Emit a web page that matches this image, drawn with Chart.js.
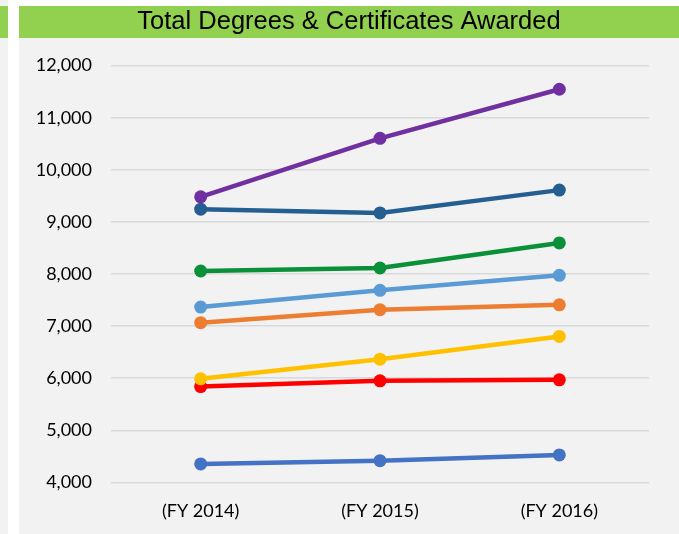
<!DOCTYPE html>
<html>
<head>
<meta charset="utf-8">
<script src="https://cdn.jsdelivr.net/npm/chart.js@4/dist/chart.umd.min.js"></script>
<style>
  html, body { margin: 0; padding: 0; background: #ffffff; overflow: hidden; }
  body { width: 679px; height: 534px; position: relative; }
  #leftStrip { position: absolute; left: 0; top: 0; width: 8px; height: 534px; background: #f2f2f2; }
  #leftStripGreen { position: absolute; left: 0; top: 6px; width: 8px; height: 32px; background: #92d050; }
  #wrap { position: absolute; left: 19px; top: 0; width: 660px; height: 534px; }
  canvas { display: block; }
</style>
</head>
<body>
<div id="leftStrip"></div>
<div id="leftStripGreen"></div>
<div id="wrap"><canvas id="c" width="660" height="534"></canvas></div>
<script>
const title = "Total Degrees & Certificates Awarded";
const categories = ["(FY 2014)", "(FY 2015)", "(FY 2016)"];
const yTicks = [4000, 5000, 6000, 7000, 8000, 9000, 10000, 11000, 12000];

const seriesPurple    = [9481, 10604, 11546];
const seriesDarkBlue  = [9244, 9173, 9610];
const seriesGreen     = [8058, 8115, 8596];
const seriesLightBlue = [7365, 7687, 7975];
const seriesOrange    = [7065, 7315, 7408];
const seriesYellow    = [5988, 6365, 6802];
const seriesRed       = [5840, 5950, 5969];
const seriesBlue      = [4354, 4417, 4527];

function ds(data, color) {
  return {
    data: data,
    borderColor: color,
    backgroundColor: color,
    pointBackgroundColor: color,
    pointBorderColor: color,
    borderWidth: 4.5,
    pointRadius: 6.5,
    pointHoverRadius: 6.5,
    pointBorderWidth: 0,
    tension: 0,
    fill: false,
    yAxisID: 'y'
  };
}

const bgPlugin = {
  id: 'bg',
  beforeDraw(chart) {
    const ctx = chart.ctx;
    ctx.save();
    ctx.fillStyle = '#ffffff';
    ctx.fillRect(0, 0, chart.width, chart.height);
    ctx.fillStyle = '#f2f2f2';
    ctx.fillRect(0, 38, chart.width, chart.height - 38);
    ctx.fillStyle = '#92d050';
    ctx.fillRect(0, 6, chart.width, 32);
    ctx.restore();
  }
};

new Chart(document.getElementById('c'), {
  type: 'line',
  data: {
    labels: categories,
    datasets: [
      ds(seriesBlue, '#4472c4'),
      ds(seriesOrange, '#ed7d31'),
      ds(seriesLightBlue, '#5b9bd5'),
      ds(seriesYellow, '#ffc000'),
      ds(seriesRed, '#ff0000'),
      ds(seriesGreen, '#0a9038'),
      ds(seriesPurple, '#7030a0'),
      ds(seriesDarkBlue, '#255e91')
    ]
  },
  options: {
    responsive: false,
    animation: false,
    layout: { padding: { left: 0, right: 0, top: 0, bottom: -6 } },
    plugins: {
      legend: { display: false },
      tooltip: { enabled: false },
      title: {
        display: true,
        text: title,
        color: '#000000',
        font: { family: "'Liberation Sans', Arial, sans-serif", size: 25.5, weight: 'normal' },
        padding: { top: 7, bottom: 28 }
      }
    },
    scales: {
      x: {
        offset: true,
        grid: { display: false, drawTicks: false },
        border: { display: false },
        ticks: {
          color: '#000000',
          padding: 18,
          font: { family: "Lato, 'Open Sans', sans-serif", size: 18 }
        }
      },
      y: {
        min: yTicks[0],
        max: yTicks[yTicks.length - 1],
        afterBuildTicks(scale) { scale.ticks = yTicks.map(v => ({ value: v })); },
        afterFit(scale) { scale.width = 92; },
        grid: { color: '#d9d9d9', lineWidth: 1.5, drawTicks: false },
        border: { display: false },
        ticks: {
          color: '#000000',
          padding: 19,
          font: { family: "Lato, 'Open Sans', sans-serif", size: 18 },
          callback: v => Number(v).toLocaleString('en-US')
        }
      },
      yRightSpace: {
        position: 'right',
        display: true,
        grid: { display: false, drawTicks: false },
        border: { display: false },
        ticks: { display: false },
        afterFit(scale) { scale.width = 30; }
      }
    }
  },
  plugins: [bgPlugin]
});
</script>
</body>
</html>
